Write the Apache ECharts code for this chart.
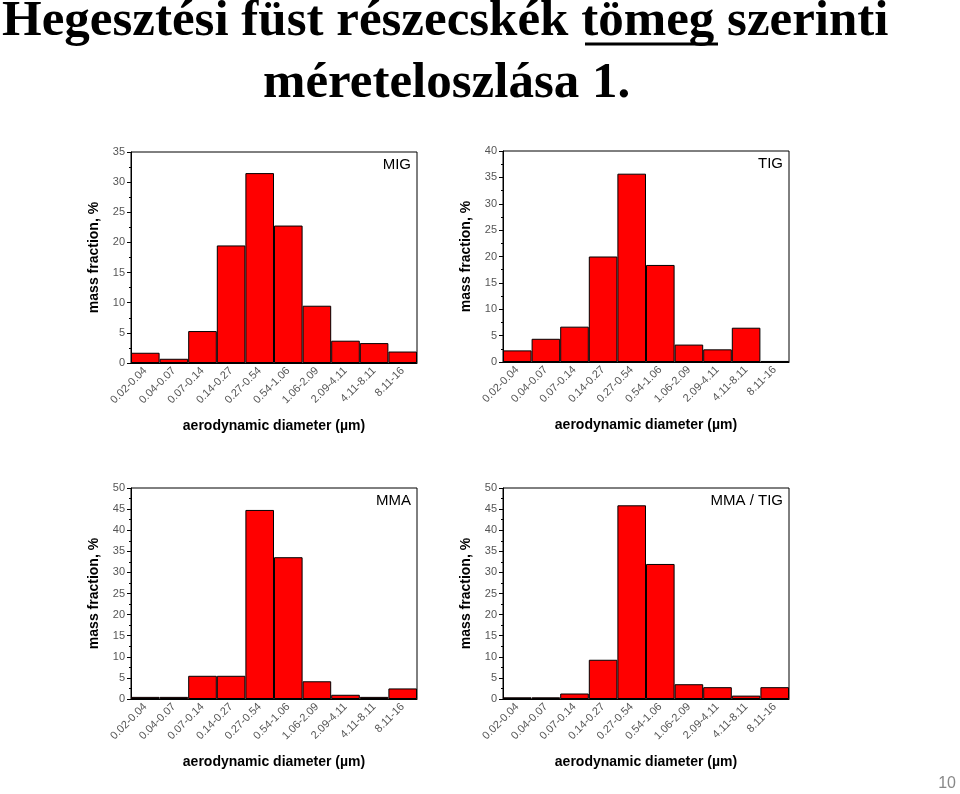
<!DOCTYPE html><html><head><meta charset="utf-8">
<script src="https://cdn.jsdelivr.net/npm/echarts@6/dist/echarts.min.js"></script>
<style>body{margin:0;background:#fff}#c{width:960px;height:794px}</style></head><body><div id="c"></div>
<script>
const categories=['0.02-0.04','0.04-0.07','0.07-0.14','0.14-0.27','0.27-0.54','0.54-1.06','1.06-2.09','2.09-4.11','4.11-8.11','8.11-16'];
const mig=[1.7,0.7,5.3,19.5,31.5,22.8,9.5,3.7,3.3,1.9];
const tig=[2.2,4.4,6.7,20,35.7,18.4,3.3,2.4,6.5,0.2];
const mma=[0.5,0.5,5.5,5.5,44.8,33.6,4.2,1.0,0.5,2.5];
const mmatig=[0.4,0.4,1.3,9.3,45.9,32.0,3.5,2.8,0.8,2.8];
const names=['MIG','TIG','MMA','MMA / TIG'];
const maxes=[35,40,50,50];
const all=[mig,tig,mma,mmatig];
const boxes=[[131,152],[503,151],[131,488],[503,488]];
const W=286,H=211;
const grid=[],xAxis=[],yAxis=[],series=[],graphic=[];
all.forEach((d,i)=>{
 const [l,t]=boxes[i];
 grid.push({left:l,top:t,width:W,height:H,show:true,borderColor:'#000',borderWidth:1});
 xAxis.push({type:'category',gridIndex:i,data:categories,
  axisLine:{lineStyle:{color:'#000'}},axisTick:{show:false},
  axisLabel:{rotate:45,interval:0,fontFamily:'Arial',fontSize:11,color:'#555',margin:6},
  name:'aerodynamic diameter (µm)',nameLocation:'middle',nameGap:56,
  nameTextStyle:{fontFamily:'Arial',fontWeight:'bold',fontSize:14,color:'#000'}});
 yAxis.push({type:'value',gridIndex:i,min:0,max:maxes[i],interval:5,
  axisLine:{show:true,lineStyle:{color:'#000'}},axisTick:{show:true,length:4,lineStyle:{color:'#000'}},
  minorTick:{show:true,splitNumber:2,length:2,lineStyle:{color:'#000'}},splitLine:{show:false},
  axisLabel:{fontFamily:'Arial',fontSize:11,color:'#555',margin:6},
  name:'mass fraction, %',nameLocation:'middle',nameGap:30,
  nameTextStyle:{fontFamily:'Arial',fontWeight:'bold',fontSize:14,color:'#000'}});
 series.push({type:'bar',xAxisIndex:i,yAxisIndex:i,data:d,barCategoryGap:0,
  itemStyle:{color:'#ff0000',borderColor:'#000',borderWidth:1}});
 graphic.push({type:'text',right:960-(l+W)+6,top:t+5,style:{text:names[i],font:'15px Arial',fill:'#000'}});
});
graphic.push({type:'text',x:2,y:-4,style:{text:'Hegesztési füst részecskék tömeg szerinti',font:'bold 51px "Liberation Serif"',fill:'#000',verticalAlign:'top',textVerticalAlign:'top'}});
graphic.push({type:'text',x:263,y:58,style:{text:'méreteloszlása 1.',font:'bold 51px "Liberation Serif"',fill:'#000',verticalAlign:'top',textVerticalAlign:'top'}});
graphic.push({type:'line',shape:{x1:585,y1:44,x2:718,y2:44},style:{stroke:'#000',lineWidth:3}});
graphic.push({type:'text',right:4,bottom:2,style:{text:'10',font:'16px Arial',fill:'#888'}});
echarts.init(document.getElementById('c')).setOption({animation:false,grid,xAxis,yAxis,series,graphic});
</script></body></html>
